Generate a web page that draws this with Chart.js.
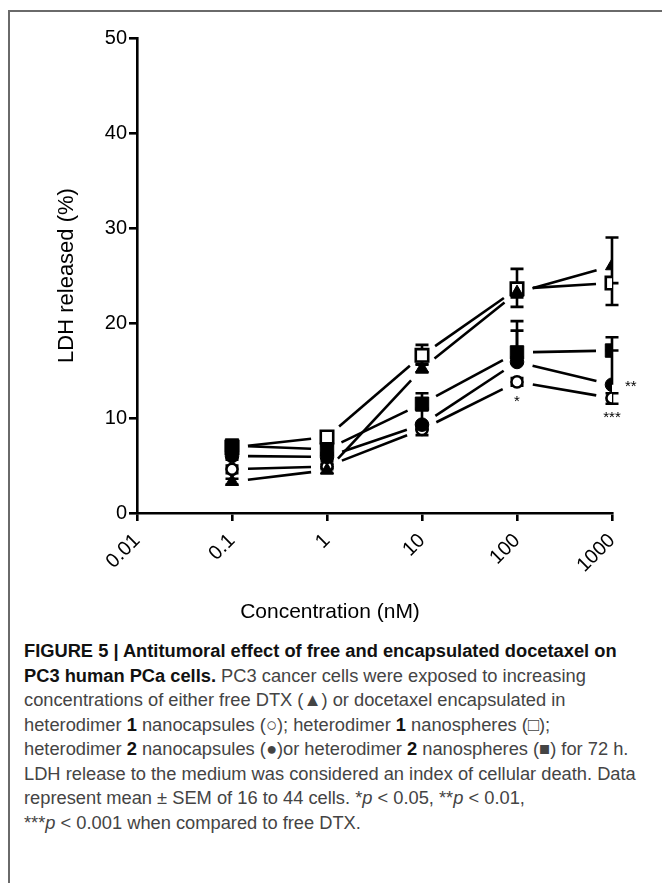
<!DOCTYPE html>
<html>
<head>
<meta charset="utf-8">
<script src="https://cdn.jsdelivr.net/npm/chart.js@4.4.0/dist/chart.umd.min.js"></script>
<style>
  body { margin: 0; background: #fff; width: 662px; height: 883px; position: relative; overflow: hidden;
         font-family: "Liberation Sans", Arial, sans-serif; }
  #frame { position: absolute; left: 8px; top: 10px; width: 700px; height: 900px;
           border-top: 2px solid #6a6a6a; border-left: 2px solid #6a6a6a; }
  #chartBox { position: absolute; left: 0; top: 0; width: 662px; height: 600px; }
  #xTitle { position: absolute; left: 0; width: 660px; top: 599px; text-align: center; font-size: 21px; color: #000; }
  #caption { position: absolute; left: 24px; top: 639px; font-size: 18.3px; line-height: 24.5px; color: #444; white-space: nowrap; }
  #caption b { color: #111; }
</style>
</head>
<body>
<div id="frame"></div>
<div id="chartBox"><canvas id="ldhChart" width="662" height="600"></canvas></div>
<div id="xTitle">Concentration (nM)</div>
<div id="caption">
  <div><b>FIGURE 5 | Antitumoral effect of free and encapsulated docetaxel on</b></div>
  <div><b>PC3 human PCa cells.</b> PC3 cancer cells were exposed to increasing</div>
  <div>concentrations of either free DTX (▲) or docetaxel encapsulated in</div>
  <div>heterodimer <b>1</b> nanocapsules (○); heterodimer <b>1</b> nanospheres (□);</div>
  <div>heterodimer <b>2</b> nanocapsules (●)or heterodimer <b>2</b> nanospheres (■) for 72 h.</div>
  <div>LDH release to the medium was considered an index of cellular death. Data</div>
  <div>represent mean ± SEM of 16 to 44 cells. *<i>p</i> &lt; 0.05, **<i>p</i> &lt; 0.01,</div>
  <div>***<i>p</i> &lt; 0.001 when compared to free DTX.</div>
</div>

<script>
// concentrations (nM)
const concentrations = [0.1, 1, 10, 100, 1000];
const xTickValues = [0.01, 0.1, 1, 10, 100, 1000];
const xTickLabels = ['0.01', '0.1', '1', '10', '100', '1000'];

// LDH released (%) mean, and the visible part of the SEM bar above / below
const freeDTX = [3.3, 4.5, 15.2, 23.2, 26.0];
const freeDTXErrUp = [0.3, 0.3, 0.4, 0.5, 3.0];
const freeDTXErrDown = [0.3, 0.3, 0.4, 0.5, 1.8];
const het1Capsules = [4.6, 4.9, 8.8, 13.8, 12.1];
const het1CapsulesErrUp = [0.4, 0.3, 0.5, 0.4, 0.5];
const het1CapsulesErrDown = [0.4, 0.3, 0.6, 0.4, 0.6];
const het1Spheres = [6.9, 8.0, 16.6, 23.6, 24.2];
const het1SpheresErrUp = [0.4, 0.4, 1.1, 2.1, 0];
const het1SpheresErrDown = [0.4, 0.4, 0.9, 1.9, 2.3];
const het2Capsules = [6.0, 5.9, 9.3, 15.9, 13.5];
const het2CapsulesErrUp = [0.4, 0.4, 1.5, 3.3, 3.6];
const het2CapsulesErrDown = [0.4, 0.4, 0.5, 0, 0];
const het2Spheres = [7.1, 6.7, 11.5, 16.9, 17.1];
const het2SpheresErrUp = [0.4, 0.4, 1.1, 3.3, 1.4];
const het2SpheresErrDown = [0.4, 0.4, 0.5, 0.5, 0];

// significance marks vs free DTX
const sigSeries = ['het1Capsules', 'het2Capsules', 'het1Capsules'];
const sigConc = [100, 1000, 1000];
const sigText = ['*', '**', '***'];

Chart.defaults.font.family = "'Liberation Sans', Arial, sans-serif";
Chart.defaults.color = '#000';

function toPoints(vals) {
    return concentrations.map((c, i) => ({ x: c, y: vals[i] }));
}

function makeSet(key, label, vals, errUp, errDown, style, filled, radius) {
    return {
        key: key,
        label: label,
        data: toPoints(vals),
        errUp: errUp,
        errDown: errDown,
        showLine: false,
        pointStyle: style,
        pointRadius: radius,
        pointBorderWidth: filled ? 1 : 2.6,
        pointBorderColor: '#000',
        pointBackgroundColor: filled ? '#000' : '#fff'
    };
}

// dataset 0 is drawn on top
const datasets = [
    makeSet('freeDTX', 'Free DTX', freeDTX, freeDTXErrUp, freeDTXErrDown, 'triangle', true, 7.5),
    makeSet('het2Spheres', 'Heterodimer 2 nanospheres', het2Spheres, het2SpheresErrUp, het2SpheresErrDown, 'rect', true, 9.5),
    makeSet('het2Capsules', 'Heterodimer 2 nanocapsules', het2Capsules, het2CapsulesErrUp, het2CapsulesErrDown, 'circle', true, 6.8),
    makeSet('het1Spheres', 'Heterodimer 1 nanospheres', het1Spheres, het1SpheresErrUp, het1SpheresErrDown, 'rect', false, 8.8),
    makeSet('het1Capsules', 'Heterodimer 1 nanocapsules', het1Capsules, het1CapsulesErrUp, het1CapsulesErrDown, 'circle', false, 5.6)
];

const prismStyle = {
    id: 'prismStyle',
    beforeDatasetsDraw(chart) {
        const ctx = chart.ctx;
        const xs = chart.scales.x;
        const ys = chart.scales.y;
        const gap = 16;
        const cap = 6.5;
        ctx.save();
        ctx.strokeStyle = '#000';
        ctx.lineWidth = 2.6;
        chart.data.datasets.slice().reverse().forEach(ds => {
            // error bars
            ds.data.forEach((p, i) => {
                const px = xs.getPixelForValue(p.x);
                const py = ys.getPixelForValue(p.y);
                ctx.beginPath();
                if (ds.errUp[i] > 0) {
                    const top = ys.getPixelForValue(p.y + ds.errUp[i]);
                    ctx.moveTo(px, py); ctx.lineTo(px, top);
                    ctx.moveTo(px - cap, top); ctx.lineTo(px + cap, top);
                }
                if (ds.errDown[i] > 0) {
                    const bot = ys.getPixelForValue(p.y - ds.errDown[i]);
                    ctx.moveTo(px, py); ctx.lineTo(px, bot);
                    ctx.moveTo(px - cap, bot); ctx.lineTo(px + cap, bot);
                }
                ctx.stroke();
            });
            // connecting lines, stopped short of the symbols
            for (let i = 0; i < ds.data.length - 1; i++) {
                const ax = xs.getPixelForValue(ds.data[i].x), ay = ys.getPixelForValue(ds.data[i].y);
                const bx = xs.getPixelForValue(ds.data[i + 1].x), by = ys.getPixelForValue(ds.data[i + 1].y);
                const len = Math.hypot(bx - ax, by - ay);
                const ux = (bx - ax) / len, uy = (by - ay) / len;
                ctx.beginPath();
                ctx.moveTo(ax + ux * gap, ay + uy * gap);
                ctx.lineTo(bx - ux * gap, by - uy * gap);
                ctx.stroke();
            }
        });
        ctx.restore();
    },
    afterDatasetsDraw(chart) {
        const ctx = chart.ctx;
        const xs = chart.scales.x;
        const ys = chart.scales.y;
        ctx.save();
        ctx.fillStyle = '#000';
        ctx.font = "15px 'Liberation Sans', Arial, sans-serif";
        ctx.textBaseline = 'middle';
        sigText.forEach((t, k) => {
            const ds = chart.data.datasets.find(d => d.key === sigSeries[k]);
            const p = ds.data.find(d => d.x === sigConc[k]);
            const px = xs.getPixelForValue(p.x);
            const py = ys.getPixelForValue(p.y);
            if (t === '**') {
                ctx.textAlign = 'left';
                ctx.fillText(t, px + 13, py + 2);
            } else {
                ctx.textAlign = 'center';
                ctx.fillText(t, px, py + 20);
            }
        });
        ctx.restore();
    }
};

const config = {
    type: 'scatter',
    data: { datasets: datasets },
    options: {
        responsive: false,
        animation: false,
        devicePixelRatio: 1,
        layout: { padding: { top: 38, right: 50, left: 0, bottom: 0 } },
        plugins: {
            legend: { display: false },
            tooltip: { enabled: false }
        },
        scales: {
            x: {
                type: 'logarithmic',
                position: 'bottom',
                min: 0.01,
                max: 1000,
                afterBuildTicks: scale => { scale.ticks = xTickValues.map(v => ({ value: v })); },
                afterFit: scale => { scale.height = 87; },
                ticks: {
                    autoSkip: false,
                    minRotation: 45,
                    maxRotation: 45,
                    padding: 8,
                    color: '#000',
                    font: { size: 20 },
                    callback: (value, index) => xTickLabels[index]
                },
                grid: { drawOnChartArea: false, tickLength: 8, lineWidth: 2.6, color: '#000' },
                border: { color: '#000', width: 2.6 }
            },
            y: {
                min: 0,
                max: 50,
                afterFit: scale => { scale.width = 137; },
                ticks: { stepSize: 10, padding: 2, color: '#000', font: { size: 20 } },
                grid: { drawOnChartArea: false, tickLength: 8, lineWidth: 2.6, color: '#000' },
                border: { color: '#000', width: 2.6 },
                title: {
                    display: true,
                    text: 'LDH released (%)',
                    color: '#000',
                    font: { size: 22 },
                    padding: { top: 54, bottom: 0 }
                }
            }
        }
    },
    plugins: [prismStyle]
};

const ldhChart = new Chart(document.getElementById('ldhChart'), config);
</script>
</body>
</html>
